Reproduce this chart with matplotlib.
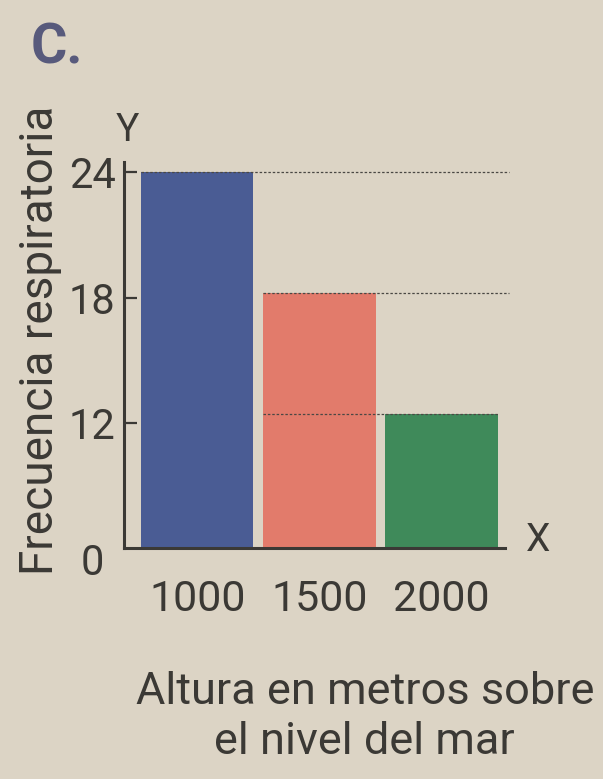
import numpy as np
import matplotlib.pyplot as plt

plt.rcParams['font.family'] = ['Roboto', 'DejaVu Sans']

alturas = ['1000', '1500', '2000']
frecuencia = [24, 18.2, 12.4]
colores = ['#4a5c94', '#e27b6b', '#3f8a5a']
yticks = [12, 18, 24]

paper = '#dcd4c5'
ink = '#3b3935'


# the printed axis is schematic: 0..12 takes the same space as 12..18
def fwd(v):
    v = np.asarray(v, dtype=float)
    return np.where(v >= 12, v, 6 + v / 2)


def inv(u):
    u = np.asarray(u, dtype=float)
    return np.where(u >= 12, u, (u - 6) * 2)


fig = plt.figure(figsize=(6.03, 7.79), dpi=100, facecolor=paper)
ax = fig.add_axes([0.2056, 0.2965, 0.632, 0.4955])
ax.set_facecolor(paper)
ax.set_yscale('function', functions=(fwd, inv))

x = np.arange(len(alturas))
ax.bar(x, frecuencia, width=0.92, color=colores, zorder=2)

# dotted guide lines from each bar top
starts = [-0.46, 0.54, 0.54]
ends = [2.55, 2.55, 2.46]
for s, e, v in zip(starts, ends, frecuencia):
    ax.hlines(v, s, e, colors='#4a4844', linewidth=0.9,
              linestyles=(0, (2, 1.5)), zorder=3, clip_on=False)

ax.set_xlim(-0.6, 2.52)
ax.set_ylim(0, 24.5)

for side in ['top', 'right']:
    ax.spines[side].set_visible(False)
for side in ['left', 'bottom']:
    ax.spines[side].set_color(ink)
    ax.spines[side].set_linewidth(2.2)

ax.set_xticks(x)
ax.set_xticklabels(alturas)
ax.set_yticks(yticks)
ax.set_yticklabels([str(t) for t in yticks])
ax.tick_params(axis='x', length=0, pad=22, labelsize=31, colors=ink)
ax.tick_params(axis='y', direction='in', length=9, width=1.6, pad=6,
               labelsize=30, colors=ink)
ax.minorticks_off()

ax.annotate('0', (0, 0), xycoords=('axes fraction', 'data'),
            xytext=(-23, -11), textcoords='offset points',
            ha='center', va='center', fontsize=30, color=ink)

fig.text(0.212, 0.833, 'Y', ha='center', va='center', fontsize=28, color=ink)
fig.text(0.893, 0.306, 'X', ha='center', va='center', fontsize=28, color=ink)
fig.text(0.066, 0.5635, 'Frecuencia respiratoria', rotation=90,
         ha='center', va='center', fontsize=33, color=ink)
fig.text(0.605, 0.08, 'Altura en metros sobre\nel nivel del mar',
         ha='center', va='center', fontsize=32.5, color=ink, linespacing=1.25)
fig.text(0.05, 0.938, 'C.', ha='left', va='center', fontsize=40,
         fontweight='bold', color='#585a7c')

fig.savefig('out.png', dpi=100, facecolor=paper)
